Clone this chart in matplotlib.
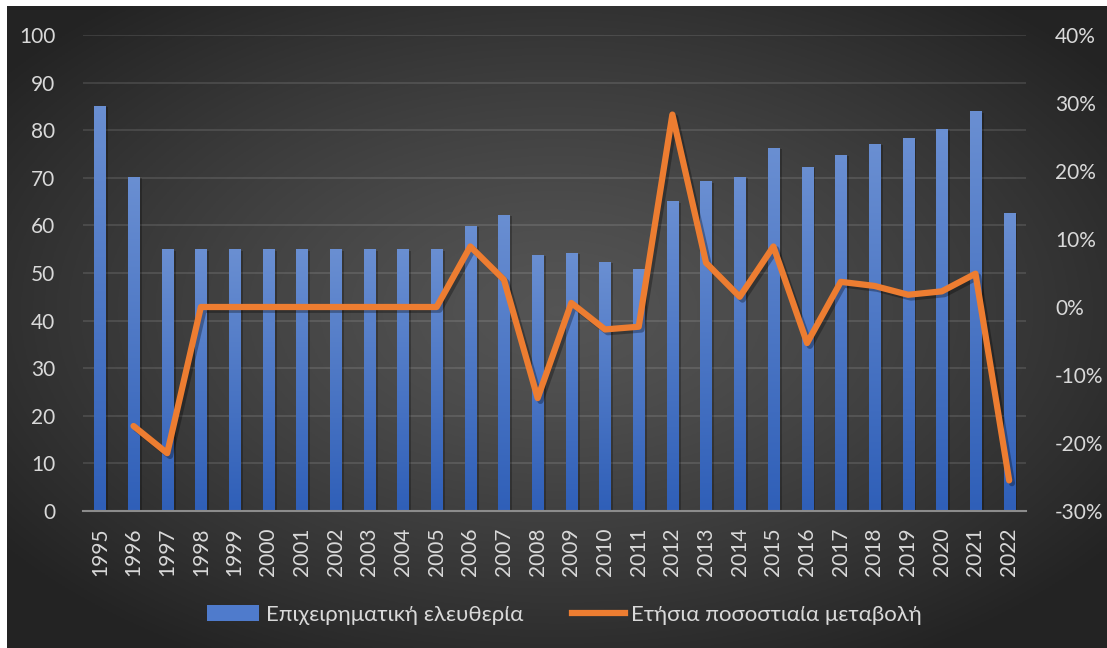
import numpy as np
import matplotlib.pyplot as plt
from matplotlib.patches import Patch
from matplotlib.lines import Line2D
from matplotlib.ticker import PercentFormatter
from matplotlib.colors import LinearSegmentedColormap
import matplotlib.patheffects as pe

years = [str(y) for y in range(1995, 2023)]
business_freedom = [85.1, 70.2, 55.0, 55.0, 55.0, 55.0, 55.0, 55.0, 55.0, 55.0,
                    55.0, 59.9, 62.2, 53.8, 54.2, 52.3, 50.8, 65.1, 69.3, 70.2,
                    76.3, 72.3, 74.8, 77.1, 78.4, 80.3, 84.0, 62.6]
# annual change, no value for the first year
annual_change = [np.nan, -17.5, -21.5, 0.0, 0.0, 0.0, 0.0, 0.0, 0.0, 0.0,
                 0.0, 8.9, 4.0, -13.4, 0.6, -3.3, -2.9, 28.3, 6.5, 1.5,
                 8.9, -5.3, 3.7, 3.1, 1.8, 2.3, 4.9, -25.5]

label_bars = 'Επιχειρηματική ελευθερία'
label_line = 'Ετήσια ποσοστιαία μεταβολή'

plt.rcParams['font.family'] = ['Lato', 'Open Sans', 'DejaVu Sans']
plt.rcParams['axes.unicode_minus'] = False
txt = '#d9d9d9'
fs = 15

fig = plt.figure(figsize=(11.07, 6.48), dpi=100)
fig.patch.set_facecolor('white')

# dark radial background
bg = fig.add_axes([7 / 1107, 0, 1 - 7 / 1107, 1 - 6 / 648])
bg.set_axis_off()
gx, gy = np.meshgrid(np.linspace(-1, 1, 400), np.linspace(-1, 1, 300))
r = np.sqrt(gx ** 2 + (gy + 0.05) ** 2)
shade = 0.33 - 0.19 * np.clip(r / 1.25, 0, 1) ** 1.3
bg.imshow(np.dstack([shade] * 3), aspect='auto', extent=(0, 1, 0, 1))

ax = fig.add_axes([83 / 1107, 1 - 511 / 648, (1026 - 83) / 1107, (511 - 35) / 648])
ax.set_facecolor('none')
x = np.arange(len(years))

bars = ax.bar(x, business_freedom, width=0.33, color='#4472c4', zorder=2,
              path_effects=[pe.SimplePatchShadow(offset=(2, -1), alpha=0.25,
                                                 shadow_rgbFace='black'), pe.Normal()])
grad = np.linspace(0, 1, 256).reshape(-1, 1)
bcmap = LinearSegmentedColormap.from_list('b', ['#2f5fb8', '#6a8fd2'])
for b in bars:
    im = ax.imshow(grad, cmap=bcmap, aspect='auto', origin='lower',
                   extent=(b.get_x(), b.get_x() + b.get_width(), 0, b.get_height()),
                   zorder=2.5)
    im.set_clip_path(b)

ax.set_xlim(-0.5, len(years) - 0.5)
ax.set_ylim(0, 100)
ax.set_yticks(range(0, 101, 10))
ax.set_xticks(x)
ax.set_xticklabels(years, rotation=90)
ax.grid(axis='y', color='#ffffff', alpha=0.12, lw=1.3, zorder=0)
ax.set_axisbelow(True)
for s in ['top', 'right', 'left']:
    ax.spines[s].set_visible(False)
ax.spines['bottom'].set_color('#8c8c8c')
ax.spines['bottom'].set_linewidth(1.5)
ax.spines['bottom'].set_zorder(4)
ax.tick_params(axis='y', length=0, pad=20, labelsize=fs, labelcolor=txt)
ax.tick_params(axis='x', length=0, pad=12, labelsize=fs, labelcolor=txt)

ax2 = ax.twinx()
ax2.plot(x, annual_change, color='#ed7d31', lw=4.5, solid_joinstyle='round',
         solid_capstyle='round', zorder=5,
         path_effects=[pe.SimpleLineShadow(offset=(2, -2), alpha=0.3, shadow_color='black'),
                       pe.Normal()])
ax2.set_ylim(-30, 40)
ax2.set_yticks(range(-30, 41, 10))
ax2.yaxis.set_major_formatter(PercentFormatter(decimals=0))
for s in ax2.spines.values():
    s.set_visible(False)
ax2.tick_params(axis='y', length=0, pad=21, labelsize=fs, labelcolor=txt)

handles = [Patch(facecolor='#4f7bcc', edgecolor='none'),
           Line2D([0], [0], color='#ed7d31', lw=4.5)]
fig.legend(handles, [label_bars, label_line], loc='center', ncol=2,
           bbox_to_anchor=(0.51, 1 - 615 / 648), frameon=False, fontsize=16,
           labelcolor=txt, handlelength=2.35, handleheight=0.7,
           handletextpad=0.3, columnspacing=2.2)

fig.savefig('out.png', dpi=100, facecolor=fig.get_facecolor())
